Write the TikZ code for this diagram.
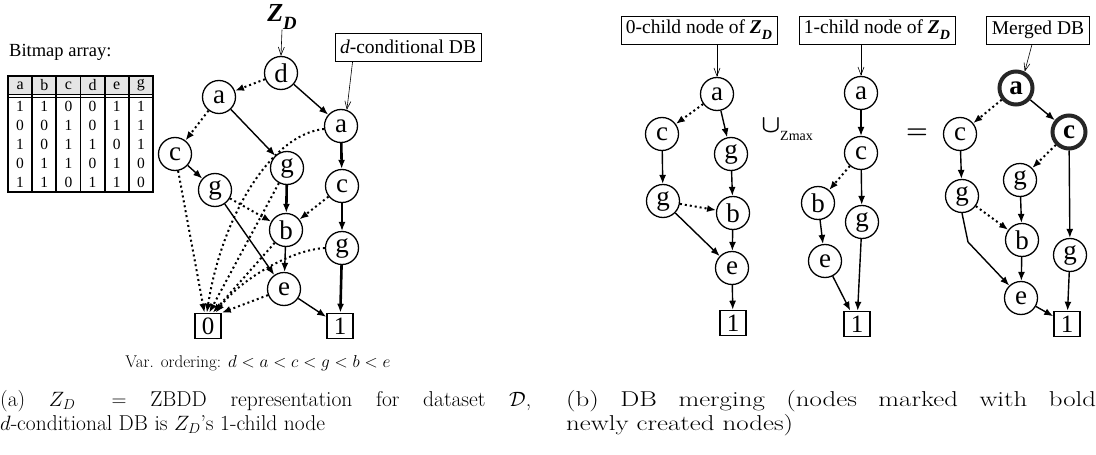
\documentclass[tikz,border=0pt]{standalone}
\usepackage{amsmath}
\usepackage{fontspec}
\usepackage{graphicx}
\usetikzlibrary{arrows.meta,calc}
\newfontfamily\tms{Liberation Serif}
\newcommand{\ZD}{\textbf{\textit{Z}}\raisebox{-0.3em}{\scalebox{0.72}{\textbf{\textit{D}}}}}
\tikzset{
  vtx/.style={circle, draw, line width=1.3pt, minimum size=33pt, inner sep=0pt,
    font=\tms\fontsize{27}{27}\selectfont},
  newvtx/.style={vtx, draw=black!85, line width=4pt, font=\tms\bfseries\fontsize{27}{27}\selectfont},
  term/.style={draw, line width=1.6pt, minimum width=26pt, minimum height=25pt, inner sep=0pt,
    font=\tms\fontsize{25}{25}\selectfont},
  tag/.style={draw, line width=0.8pt, minimum height=28pt, inner xsep=5pt,
    font=\tms\fontsize{19.5}{19.5}\selectfont},
  hi/.style={-{Latex[length=9pt,width=7pt]}, line width=1.4pt},
  hib/.style={hi, line width=2.6pt},
  lo/.style={-{Latex[length=9pt,width=7pt]}, line width=2pt, dash pattern=on 2pt off 3pt},
  ptr/.style={-{Straight Barb[length=8pt,width=6pt]}, line width=0.6pt},
  captxt/.style={anchor=base west, inner sep=0pt, font=\fontsize{21.5}{21.5}\selectfont},
}
\begin{document}
\begin{tikzpicture}[x=1pt,y=-1pt]
\useasboundingbox (0,0) rectangle (1096,455);

% ---------- bitmap array ----------
\node[anchor=west, inner sep=0pt, font=\tms\fontsize{18.5}{18.5}\selectfont] (bmtitle) at (9,52) {Bitmap array:};
\fill[black!10] (8,76) rectangle (153,95);
\foreach \h [count=\i from 0] in {a,b,c,d,e,g}
  \node[font=\tms\fontsize{16}{16}\selectfont, inner sep=0pt] (h\i) at ({8+24.17*(\i+0.5)},85.5) {\h};
\foreach \row [count=\r from 0] in {{1,1,0,0,1,1},{0,0,1,0,1,1},{1,0,1,1,0,1},{0,1,1,0,1,0},{1,1,0,1,1,0}}
  \foreach \v [count=\i from 0] in \row
    \node[font=\tms\fontsize{15.5}{15.5}\selectfont, inner sep=0pt] (c\r\i) at ({8+24.17*(\i+0.5)},{106.5+19*\r}) {\v};
\foreach \i in {1,...,5}
  \draw[line width=1.8pt] ({8+24.17*\i},76) -- ({8+24.17*\i},192);
\draw[line width=0.8pt] (8,94) -- (153,94) (8,97) -- (153,97);
\draw[line width=1.8pt] (8,76) rectangle (153,192);

% ---------- ZBDD of the dataset ----------
\node[vtx] (d)  at (281,73)  {d};
\node[vtx] (aL) at (219,97)  {a};
\node[vtx] (aR) at (341,126) {a};
\node[vtx] (cL) at (175,154) {c};
\node[vtx] (gM) at (287,168) {g};
\node[vtx] (gL) at (215,190) {g};
\node[vtx] (cR) at (342,186) {c};
\node[vtx] (b)  at (286,230) {b};
\node[vtx] (gR) at (342,248) {g};
\node[vtx] (e)  at (284,289) {e};
\node[term] (t0) at (208,326) {0};
\node[term] (t1) at (340,326) {1};

\node[inner sep=0pt, font=\tms\fontsize{26}{26}\selectfont] (zd) at (282,17) {\ZD};
\draw[ptr] (zd.south) -- (d.north);
\node[tag] (dc) at (408,47) {\textit{d}-conditional DB};
\draw[ptr] ($(dc.south west)+(18,0)$) -- (aR.70);

\draw[lo] (d) -- (aL);
\draw[hi] (d) -- (aR);
\draw[lo] (aL) -- (cL);
\draw[hi] (aL) -- (gM);
\draw[lo] (cL) -- (t0.105);
\draw[hi] (cL) -- (gL);
\draw[lo] (gL) -- (b);
\draw[hi] (gL) -- (e);
\draw[lo] (gM) -- (t0.85);
\draw[hib] (gM) -- (b);
\draw[lo] (b) -- (t0.70);
\draw[hi] (b) -- (e);
\draw[lo] (e) -- (t0.north east);
\draw[hi] (e) -- (t1);
\draw[lo] (aR.190) .. controls (272,134) and (222,215) .. (t0.95);
\draw[hib] (aR) -- (cR);
\draw[lo] (cR) -- (b);
\draw[hi] (cR) -- (gR);
\draw[lo] (gR.west) .. controls (290,250) and (240,280) .. (t0.60);
\draw[hib] (gR) -- (t1);

\node[font=\fontsize{17}{17}\selectfont, inner sep=0pt] (ord) at (258,363) {Var. ordering: $d<a<c<g<b<e$};

% ---------- 0-child node ----------
\node[tag] (b0) at (699,30) {0-child node of \ZD};
\node[vtx] (a0)  at (717,94)  {a};
\node[vtx] (c0)  at (662,134) {c};
\node[vtx] (g0)  at (731,154) {g};
\node[vtx] (g0L) at (663,201) {g};
\node[vtx] (b0n) at (733,213) {b};
\node[vtx] (e0)  at (732,268) {e};
\node[term] (o0) at (733,323) {1};
\draw[ptr] (b0.south -| a0.north) -- (a0.north);
\draw[lo] (a0) -- (c0);
\draw[hi] (a0) -- (g0);
\draw[hi] (c0) -- (g0L);
\draw[lo] (g0L) -- (b0n);
\draw[hi] (g0L) -- (e0);
\draw[hi] (g0) -- (b0n);
\draw[hi] (b0n) -- (e0);
\draw[hi] (e0) -- (o0);

\node[inner sep=0pt] (cup) at (771,126) {\fontsize{32}{32}\selectfont$\boldsymbol{\cup}$};
\node[anchor=west, inner sep=0pt, font=\tms\fontsize{14}{14}\selectfont] (zmax) at (780,136) {Zmax};

% ---------- 1-child node ----------
\node[tag] (b1) at (877,30) {1-child node of \ZD};
\node[vtx] (a1)  at (861,93)  {a};
\node[vtx] (c1)  at (861,153) {c};
\node[vtx] (b1n) at (818,203) {b};
\node[vtx] (g1)  at (862,222) {g};
\node[vtx] (e1)  at (825,261) {e};
\node[term] (o1) at (857,324) {1};
\draw[ptr] (b1.south -| a1.north) -- (a1.north);
\draw[hi] (a1) -- (c1);
\draw[lo] (c1) -- (b1n);
\draw[hi] (c1) -- (g1);
\draw[hi] (b1n) -- (e1);
\draw[hi] (e1) -- (o1);
\draw[hi] (g1) -- (o1);

\node[inner sep=0pt] (eq) at (917,134) {\fontsize{30}{30}\selectfont$\boldsymbol{=}$};

% ---------- merged DB ----------
\node[tag] (bm) at (1038,30) {Merged DB};
\node[newvtx] (aM) at (1016,88) {a};
\node[vtx] (cM)  at (960,134) {c};
\node[newvtx] (cM2) at (1069,132) {c};
\node[vtx] (gM2) at (1020,180) {g};
\node[vtx] (gMl) at (962,196) {g};
\node[vtx] (bM)  at (1022,240) {b};
\node[vtx] (gM3) at (1070,255) {g};
\node[vtx] (eM)  at (1021,298) {e};
\node[term] (oM) at (1067,324) {1};
\coordinate (kink) at (968,242);
\draw[ptr] ($(bm.south)+(-6,0)$) -- (aM.62);
\draw[lo] (aM) -- (cM);
\draw[hi] (aM) -- (cM2);
\draw[hi] (cM) -- (gMl);
\draw[lo] (cM2) -- (gM2);
\draw[hi] (cM2) -- (gM3);
\draw[lo] (gMl) -- (bM);
\draw[hi] (gMl.south) -- (kink) -- (eM);
\draw[hi] (gM2) -- (bM);
\draw[hi] (bM) -- (eM);
\draw[hi] (eM) -- (oM);
\draw[hi] (gM3) -- (oM);

% ---------- captions ----------
\node[captxt] (ca1) at (0,406) {\makebox[531pt][s]{(a) $Z_D =$ ZBDD representation for dataset $\mathcal{D}$,}};
\node[captxt] (ca2) at (0,430) {$d$-conditional DB is $Z_D$'s 1-child node};
\node[captxt] (cb1) at (566,406) {\scalebox{1.25}[1]{\makebox[424pt][s]{(b) DB merging (nodes marked with bold}}};
\node[captxt] (cb2) at (566,430) {\scalebox{1.25}[1]{newly created nodes)}};
\end{tikzpicture}
\end{document}
